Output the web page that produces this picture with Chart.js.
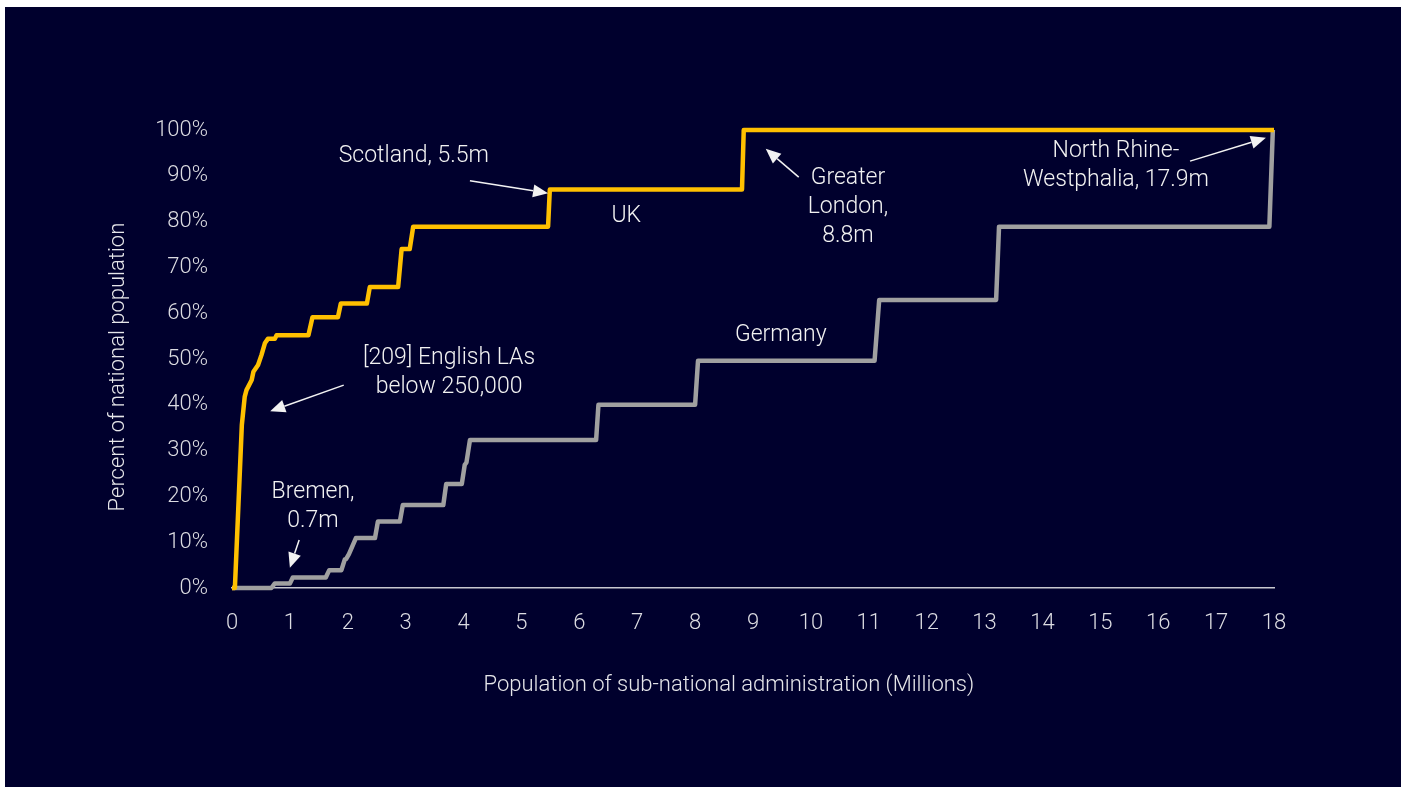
<!DOCTYPE html>
<html>
<head>
<meta charset="utf-8">
<script src="https://cdn.jsdelivr.net/npm/chart.js@4"></script>
<style>
  html, body { margin: 0; padding: 0; background: #ffffff; }
  #wrap { position: absolute; left: 5px; top: 7px; width: 1396px; height: 780px; background: #00002d; }
</style>
</head>
<body>
<div id="wrap"><canvas id="chart"></canvas></div>
<script>
// cumulative share of national population vs size of sub-national unit
var ukX = [0, 0.05, 0.17, 0.22, 0.25, 0.34, 0.37, 0.45, 0.51, 0.57, 0.62, 0.74, 0.77, 1.32, 1.39, 1.83, 1.88, 2.33, 2.38, 2.87, 2.93, 3.07, 3.13, 5.46, 5.49, 8.81, 8.84, 18];
var ukY = [0, 0, 35.6, 41.8, 43.2, 45.4, 47.2, 48.7, 50.9, 53.5, 54.4, 54.4, 55.2, 55.2, 59.1, 59.1, 62.1, 62.1, 65.7, 65.7, 74.0, 74.0, 78.9, 78.9, 87.0, 87.0, 100, 100];

var deX = [0, 0.68, 0.74, 1.0, 1.05, 1.62, 1.68, 1.89, 1.95, 1.97, 2.02, 2.14, 2.47, 2.52, 2.9, 2.95, 3.65, 3.70, 3.97, 4.02, 4.05, 4.11, 6.29, 6.33, 8.0, 8.05, 11.1, 11.18, 13.2, 13.25, 17.92, 17.98];
var deY = [0, 0, 1.0, 1.0, 2.3, 2.3, 3.9, 3.9, 6.3, 6.3, 7.4, 10.9, 10.9, 14.5, 14.5, 18.1, 18.1, 22.7, 22.7, 26.9, 27.4, 32.3, 32.3, 40.0, 40.0, 49.6, 49.6, 62.9, 62.9, 78.9, 78.9, 100];

// trailing spaces nudge the centred titles off the axis centre
var xTitle = 'Population of sub-national administration (Millions)         ';
var yTitle = 'Percent of national population   ';

// callouts: text lines anchored at a data point, optional arrow tail -> tip
var notes = [
  { lines: ['Scotland, 5.5m'], x: 3.14, y: 94.3, arrow: [4.11, 88.9, 5.46, 86.2] },
  { lines: ['UK'], x: 6.81, y: 81.2 },
  { lines: ['Greater', 'London,', '8.8m'], x: 10.64, y: 89.5, arrow: [9.79, 89.7, 9.22, 95.9] },
  { lines: ['North Rhine-', 'Westphalia, 17.9m'], x: 15.27, y: 95.4, arrow: [16.55, 93.2, 17.86, 98.3] },
  { lines: ['Germany'], x: 9.48, y: 55.2 },
  { lines: ['[209] English LAs', 'below 250,000'], x: 3.75, y: 50.2, arrow: [1.93, 44.3, 0.66, 38.6] },
  { lines: ['Bremen,', '0.7m'], x: 1.40, y: 21.0, arrow: [1.16, 10.5, 1.0, 4.4] }
];

function toPoints(xs, ys) {
  return xs.map(function (v, i) { return { x: v, y: ys[i] }; });
}

var calloutPlugin = {
  id: 'callouts',
  afterDatasetsDraw: function (chart) {
    var ctx = chart.ctx;
    var sx = chart.scales.x, sy = chart.scales.y;
    ctx.save();
    ctx.fillStyle = '#f2f2f2';
    ctx.strokeStyle = '#f2f2f2';
    ctx.font = '300 23px Roboto';
    ctx.textAlign = 'center';
    ctx.textBaseline = 'middle';
    notes.forEach(function (n) {
      var px = sx.getPixelForValue(n.x);
      var py = sy.getPixelForValue(n.y);
      n.lines.forEach(function (t, i) { ctx.fillText(t, px, py + i * 29); });
      if (n.arrow) {
        var x1 = sx.getPixelForValue(n.arrow[0]), y1 = sy.getPixelForValue(n.arrow[1]);
        var x2 = sx.getPixelForValue(n.arrow[2]), y2 = sy.getPixelForValue(n.arrow[3]);
        var a = Math.atan2(y2 - y1, x2 - x1);
        var len = 15, half = 6.5;
        var bx = x2 - len * Math.cos(a), by = y2 - len * Math.sin(a);
        ctx.lineWidth = 1.5;
        ctx.beginPath();
        ctx.moveTo(x1, y1);
        ctx.lineTo(bx, by);
        ctx.stroke();
        ctx.beginPath();
        ctx.moveTo(x2, y2);
        ctx.lineTo(bx + half * Math.sin(a), by - half * Math.cos(a));
        ctx.lineTo(bx - half * Math.sin(a), by + half * Math.cos(a));
        ctx.closePath();
        ctx.fill();
      }
    });
    ctx.restore();
  }
};

Chart.defaults.font.family = 'Roboto';
Chart.defaults.font.weight = 300;
Chart.defaults.color = '#dcdce2';

var chart = new Chart(document.getElementById('chart'), {
  type: 'line',
  data: {
    datasets: [
      {
        label: 'UK',
        data: toPoints(ukX, ukY),
        borderColor: '#ffc000',
        borderWidth: 4.5,
        borderJoinStyle: 'round',
        pointRadius: 0,
        tension: 0,
        fill: false,
        clip: 8
      },
      {
        label: 'Germany',
        data: toPoints(deX, deY),
        borderColor: '#a0a0a0',
        borderWidth: 4.5,
        borderJoinStyle: 'round',
        pointRadius: 0,
        tension: 0,
        fill: false,
        clip: 8
      }
    ]
  },
  options: {
    responsive: true,
    maintainAspectRatio: false,
    animation: false,
    layout: { padding: { left: 100, top: 123, right: 127, bottom: 0 } },
    plugins: {
      legend: { display: false },
      tooltip: { enabled: false }
    },
    scales: {
      x: {
        type: 'linear',
        min: 0,
        max: 18,
        grid: { display: false, drawTicks: false },
        border: { display: true, color: '#c8c8d0', width: 1.5 },
        ticks: { stepSize: 1, padding: 22, font: { size: 22 }, maxRotation: 0 },
        title: { display: true, text: xTitle, font: { size: 22 }, color: '#e6e6ea', padding: { top: 0, bottom: 88 } },
        afterFit: function (scale) { scale.height = 199; }
      },
      y: {
        min: 0,
        max: 100,
        grid: { display: false, drawTicks: false },
        border: { display: false },
        ticks: { stepSize: 10, padding: 24, font: { size: 22 }, callback: function (v) { return v + '%'; } },
        title: { display: true, text: yTitle, font: { size: 22 }, color: '#e6e6ea', padding: { top: 0, bottom: 0 } },
        afterFit: function (scale) { scale.width = 127; }
      }
    }
  },
  plugins: [calloutPlugin]
});
</script>
</body>
</html>
